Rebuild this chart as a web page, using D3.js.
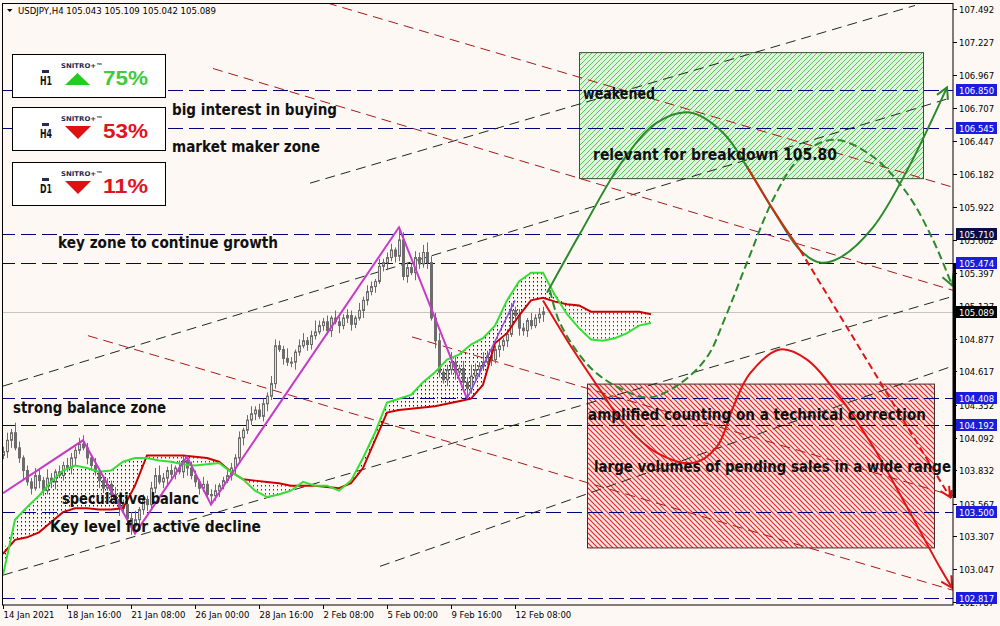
<!DOCTYPE html>
<html><head><meta charset="utf-8">
<script src="https://cdn.jsdelivr.net/npm/d3@7"></script>
<style>body{margin:0;background:#fdf8f4;}svg{display:block}</style>
</head><body>
<svg id="c" width="1000" height="626"></svg>
<script>
// ---------------- DATA ----------------
const closes = [
103.98,104.07,104.13,104.01,103.93,103.83,103.74,103.69,103.79,103.75,103.67,103.77,103.74,103.82,103.79,103.87,103.85,103.93,103.99,104.04,
104.01,103.93,103.87,103.82,103.75,103.69,103.72,103.64,103.60,103.53,103.56,103.45,103.39,103.44,103.52,103.60,103.56,103.69,103.79,103.74,
103.77,103.83,103.80,103.85,103.82,103.91,103.85,103.79,103.74,103.69,103.72,103.64,103.63,103.67,103.71,103.75,103.79,103.85,103.93,104.09,
104.15,104.23,104.28,104.31,104.26,104.36,104.42,104.52,104.82,104.79,104.72,104.69,104.69,104.77,104.82,104.86,104.83,104.90,104.93,104.98,
105.01,104.94,105.04,105.01,104.98,105.04,105.06,104.99,105.04,105.10,105.18,105.25,105.29,105.33,105.45,105.48,105.52,105.58,105.53,105.66,
105.37,105.44,105.40,105.52,105.47,105.56,105.48,105.04,104.86,104.61,104.55,104.63,104.69,104.61,104.64,104.53,104.48,104.58,104.63,104.66,
104.69,104.74,104.71,104.79,104.82,104.86,104.91,105.10,105.06,104.96,104.94,105.02,104.98,105.04,105.07,105.089];
const firstOpen = 103.95;
// wick lengths in hundredths of a yen
const wickUp = [
4,6,3,8,5,2,4,3,6,5,3,7,4,2,5,3,6,4,3,5,
7,4,3,6,2,4,5,3,6,2,4,3,5,7,2,4,3,5,6,8,
4,3,5,2,6,4,3,5,4,2,6,3,4,5,2,3,6,4,3,5,
2,4,6,3,5,4,3,6,5,4,3,8,4,2,5,6,3,4,9,4,
3,5,2,6,4,3,5,4,2,6,3,5,4,2,6,3,4,5,2,10,
6,4,3,5,4,6,8,5,4,6,3,4,8,5,3,6,4,9,5,3,
8,4,6,3,5,2,4,6,3,5,4,2,6,3,5,4];
const wickDn = [
3,5,6,2,4,7,3,5,2,6,4,3,5,6,2,4,3,5,6,3,
2,5,4,3,6,4,2,5,3,6,4,5,7,2,6,4,5,3,4,2,
5,6,3,4,2,5,6,3,4,5,3,2,6,4,5,3,2,4,5,3,
6,3,4,5,2,4,6,3,4,2,5,3,4,6,3,2,5,4,3,2,
4,3,5,2,6,3,4,5,3,2,6,4,3,5,2,4,6,3,5,4,
3,5,2,6,4,3,5,2,6,4,3,5,4,6,3,5,8,4,3,6,
4,2,5,3,6,4,5,2,3,6,4,5,3,2,4,6];
// Ichimoku spans, one value every 3 bars
const cloudStep = 3;
const spanA = [103.00,103.44,103.54,103.63,103.74,103.83,103.87,103.85,103.82,103.83,103.90,103.93,103.93,103.91,103.90,103.88,103.87,103.88,103.89,103.82,
103.76,103.67,103.62,103.64,103.67,103.74,103.71,103.71,103.67,103.75,103.93,104.13,104.37,104.40,104.43,104.53,104.61,104.71,104.75,104.83,
104.88,104.98,105.18,105.33,105.40,105.40,105.22,105.07,104.96,104.87,104.86,104.88,104.92,104.98,105.00];
const spanB = [103.17,103.28,103.30,103.34,103.42,103.50,103.53,103.53,103.52,103.52,103.53,103.71,103.95,103.95,103.95,103.95,103.94,103.93,103.90,103.82,
103.76,103.75,103.74,103.73,103.71,103.71,103.71,103.70,103.69,103.73,103.85,104.07,104.29,104.31,104.32,104.33,104.34,104.36,104.38,104.40,
104.51,104.84,104.92,105.06,105.18,105.20,105.17,105.15,105.14,105.09,105.09,105.09,105.09,105.09,105.07];
// zigzag (bar index, price)
const zigzag = [[0,103.65],[20,104.07],[33,103.33],[46,103.94],[52,103.56],[99,105.76],[116,104.40]];
const zigzagLast = [[116,104.40],[128,105.18]];
// forecast paths (bar index, price)
const fcGreen = [[136,105.24],[144.25,105.71],[155,106.29],[163.5,106.59],[171.75,106.67],[180,106.51],[186,106.24],[192.5,105.90],[199.25,105.58],[204.25,105.48],[209.25,105.52],[217.5,105.76],[226,106.21],[236,106.87]];
const fcRedSeg = [[186,106.24],[192.5,105.90],[199.25,105.58]];
const fcRedDash = [[199.25,105.58],[236.75,103.62]];
const fcGreenDash = [[136.75,105.26],[139.25,105.00],[146.75,104.65],[155,104.47],[161.75,104.41],[169.25,104.52],[176,104.73],[180.5,105.04],[186,105.48],[192.5,105.98],[198.5,106.29],[204.25,106.43],[209.25,106.45],[217.5,106.32],[226,106.03],[232.5,105.66],[237.25,105.30]];
const fcRed = [[135,105.18],[142.5,104.79],[149.25,104.47],[155,104.21],[163.5,103.97],[172.5,103.89],[178.5,104.02],[182.5,104.33],[186.75,104.60],[194.25,104.79],[201,104.71],[209.25,104.41],[217.5,104.02],[226,103.54],[234.25,103.06],[237.25,102.90]];
// trend lines
const trendBlack = [[[76.75,106.11],[228,107.52]],[[0,104.50],[237.25,106.79]],[[0,103.00],[237.25,105.21]],[[94.25,103.07],[237.5,104.66]]];
const trendRed = [[[52.5,107.02],[237.5,105.26]],[[81,107.54],[237.25,106.08]],[[21.25,104.90],[237.5,102.88]],[[102.25,104.89],[237.5,103.63]]];
// zones
const zoneBuy = [[144,107.15],[230,106.15]];
const zoneSell = [[146,104.52],[232.75,103.22]];
// levels
const levels = [106.850,106.545,105.710,105.474,104.408,104.192,103.500,102.817];
const levelKind = ['b','b','d','b','b','b','b','b'];
const lastPrice = 105.089;
const priceTicks = [107.492,107.227,106.967,106.707,106.447,106.182,105.922,105.662,105.397,105.137,104.877,104.617,104.352,104.092,103.832,103.567,103.307,103.047,102.787];
const timeTicks = [0,16,32,48,64,80,96,112,128];
const timeLabels = ['14 Jan 2021','18 Jan 16:00','21 Jan 08:00','26 Jan 00:00','28 Jan 16:00','2 Feb 08:00','5 Feb 00:00','9 Feb 16:00','12 Feb 08:00'];
const header = 'USDJPY,H4  105.043 105.109 105.042 105.089';
const notes = ['big interest in buying','market maker zone','key zone to continue growth','strong balance zone','speculative balanc','Key level for active decline','weakened','relevant for breakdown 105.80','amplified counting on a technical correction','large volumes of pending sales in a wide range'];
const panelTF = ['H1','H4','D1'];
const panelPct = ['75%','53%','11%'];
const panelDir = [1,-1,-1];

// ---------------- LAYOUT ----------------
const notePos = [[172,115,165],[172,152,148],[58,248,220],[13,413,153],[62,504,137],[50,532,211],[583,99,72],[593,160,244],[588,420,338],[594,472,357]];
const BG='#fdf8f4';
const svg=d3.select('#c');
const x=d3.scaleLinear().domain([0,237.5]).range([3,953]);
const y=d3.scaleLinear().domain([102.787,107.492]).range([602,9]);
const defs=svg.append('defs');
svg.append('rect').attr('width',1000).attr('height',626).attr('fill',BG);
defs.append('clipPath').attr('id','clip').append('rect').attr('x',3).attr('y',4).attr('width',950).attr('height',601);

function hatch(id,bg,col,dir,w){
  const p=defs.append('pattern').attr('id',id).attr('patternUnits','userSpaceOnUse').attr('width',5).attr('height',5);
  p.append('rect').attr('width',5).attr('height',5).attr('fill',bg);
  p.append('path').attr('d',dir>0?'M-1,1 L1,-1 M0,5 L5,0 M4,6 L6,4':'M-1,4 L1,6 M0,0 L5,5 M4,-1 L6,1').attr('stroke',col).attr('stroke-width',w);
}
hatch('hG','#ddf6dc','#5cc45c',1,1);
hatch('hR','#fbe4e2','#e42a2a',-1,1.2);
function dots(id,col){
  const p=defs.append('pattern').attr('id',id).attr('patternUnits','userSpaceOnUse').attr('width',4).attr('height',4);
  p.append('rect').attr('x',1).attr('y',1).attr('width',1).attr('height',1.5).attr('fill',col);
}
dots('dK','#1a1a1a'); dots('dR','#cc0000');
function marker(id,col,dbl){
  const m=defs.append('marker').attr('id',id).attr('viewBox','-12 -7 14 14').attr('refX',0).attr('refY',0)
    .attr('markerWidth',14).attr('markerHeight',14).attr('markerUnits','userSpaceOnUse').attr('orient','auto');
  m.append('path').attr('d',dbl?'M-10,-5 L0,0 L-10,5 M-5,-5 L2,0':'M-11,-6 L0,0 L-11,6').attr('fill','none').attr('stroke',col).attr('stroke-width',2);
}
marker('aG','#2b8a2b'); marker('aR','#e01414'); marker('aRd','#e01414',true);

const g=svg.append('g').attr('clip-path','url(#clip)');
// zones
function zone(z,fill,stroke){
  g.append('rect').attr('x',x(z[0][0])+0.5).attr('y',y(z[0][1])+0.5)
   .attr('width',x(z[1][0])-x(z[0][0])).attr('height',y(z[1][1])-y(z[0][1]))
   .attr('fill',fill).attr('stroke',stroke).attr('stroke-width',1);
}
zone(zoneBuy,'url(#hG)','#3d4f35');
zone(zoneSell,'url(#hR)','#4a2a2a');
// last price line
g.append('line').attr('x1',3).attr('x2',953).attr('y1',Math.round(y(lastPrice))+0.5).attr('y2',Math.round(y(lastPrice))+0.5).attr('stroke','#c8c4c0');
// levels
levels.forEach(v=>{
  const yy=Math.round(y(v))+0.5;
  g.append('line').attr('x1',0).attr('x2',953).attr('y1',yy).attr('y2',yy).attr('stroke','#000078').attr('stroke-dasharray','15,6');
});
// trend lines
const ln=d3.line().x(d=>x(d[0])).y(d=>y(d[1]));
trendBlack.forEach(t=>g.append('path').attr('d',ln(t)).attr('stroke','#1e2a1e').attr('stroke-width',1).attr('fill','none').attr('stroke-dasharray','10,6'));
trendRed.forEach(t=>g.append('path').attr('d',ln(t)).attr('stroke','#a81818').attr('stroke-width',1).attr('fill','none').attr('stroke-dasharray','10,6'));
// cloud
const cd=spanA.map((a,k)=>({i:k*cloudStep,a:a,b:spanB[k]}));
g.append('path').attr('d',d3.area().x(d=>x(d.i)).y0(d=>y(d.b)).y1(d=>y(Math.max(d.a,d.b)))(cd)).attr('fill','url(#dK)');
g.append('path').attr('d',d3.area().x(d=>x(d.i)).y0(d=>y(d.a)).y1(d=>y(Math.max(d.a,d.b)))(cd)).attr('fill','url(#dR)');
// candles
const CC='#6c6c6c';
const cg=g.append('g');
closes.forEach((c,j)=>{
  const o=j?closes[j-1]:firstOpen;
  const hi=Math.max(o,c)+wickUp[j]/100, lo=Math.min(o,c)-wickDn[j]/100;
  const xx=Math.round(x(j));
  cg.append('line').attr('x1',xx+0.5).attr('x2',xx+0.5).attr('y1',y(hi)).attr('y2',y(lo)).attr('stroke',CC);
  const top=y(Math.max(o,c)), bot=y(Math.min(o,c));
  cg.append('rect').attr('x',xx-0.5).attr('y',top).attr('width',2).attr('height',Math.max(1,bot-top))
    .attr('fill',c>=o?'#e4e0dc':CC).attr('stroke',CC).attr('stroke-width',1);
});
// spans
const sl=d3.line().x(d=>x(d.i));
g.append('path').attr('d',sl.y(d=>y(d.b))(cd)).attr('fill','none').attr('stroke','#cc0000').attr('stroke-width',2);
g.append('path').attr('d',sl.y(d=>y(d.a))(cd)).attr('fill','none').attr('stroke','#33e033').attr('stroke-width',2);
// zigzag
g.append('path').attr('d',ln(zigzag)).attr('fill','none').attr('stroke','#c43cc8').attr('stroke-width',2);
g.append('path').attr('d',ln(zigzagLast)).attr('fill','none').attr('stroke','#8a4ae0').attr('stroke-width',1.5);
// forecasts
const cv=d3.line().x(d=>x(d[0])).y(d=>y(d[1])).curve(d3.curveCatmullRom.alpha(0.5));
g.append('path').attr('d',cv(fcGreenDash)).attr('fill','none').attr('stroke','#2b8a2b').attr('stroke-width',2).attr('stroke-dasharray','8,4').attr('marker-end','url(#aG)');
g.append('path').attr('d',cv(fcRed)).attr('fill','none').attr('stroke','#e01414').attr('stroke-width',2).attr('marker-end','url(#aR)');
g.append('path').attr('d',cv(fcGreen)).attr('fill','none').attr('stroke','#2b8a2b').attr('stroke-width',2).attr('marker-end','url(#aG)');
g.append('path').attr('d',cv(fcRedSeg)).attr('fill','none').attr('stroke','#c83018').attr('stroke-width',2);
g.append('path').attr('d',ln(fcRedDash)).attr('fill','none').attr('stroke','#e01414').attr('stroke-width',2).attr('stroke-dasharray','7,4').attr('marker-end','url(#aRd)');
// notes
notes.forEach((t,k)=>{
  const p=notePos[k];
  svg.append('text').attr('x',p[0]).attr('y',p[1]).text(t)
    .attr('font-family','"Comic Sans MS","DejaVu Sans",sans-serif').attr('font-weight','bold').attr('font-size',15)
    .attr('fill','#111').attr('textLength',p[2]).attr('lengthAdjust','spacingAndGlyphs');
});
// frame
svg.append('rect').attr('x',2.5).attr('y',3.5).attr('width',950.5).attr('height',601.5).attr('fill','none').attr('stroke','#000');
svg.append('rect').attr('x',953).attr('y',263).attr('width',3).attr('height',235).attr('fill','#000');
// right axis
const AX='"DejaVu Sans",Verdana,sans-serif';
priceTicks.forEach(v=>{
  const yy=Math.round(y(v))+0.5;
  svg.append('line').attr('x1',953).attr('x2',957).attr('y1',yy).attr('y2',yy).attr('stroke','#000');
  svg.append('text').attr('x',959).attr('y',yy+3.5).text(v.toFixed(3)).attr('font-family',AX).attr('font-size',8.5).attr('fill','#000');
});
function tag(v,bg){
  const yy=Math.round(y(v));
  svg.append('rect').attr('x',956).attr('y',yy-6).attr('width',41).attr('height',12).attr('fill',bg);
  svg.append('text').attr('x',959).attr('y',yy+3.5).text(v.toFixed(3)).attr('font-family',AX).attr('font-size',8.5).attr('fill','#fff');
}
levels.forEach((v,k)=>tag(v,levelKind[k]==='d'?'#0d0d45':'#1c1cdc'));
tag(lastPrice,'#000');
// bottom axis
timeTicks.forEach((t,k)=>{
  const xx=Math.round(x(t))+0.5;
  svg.append('line').attr('x1',xx).attr('x2',xx).attr('y1',605).attr('y2',609).attr('stroke','#000');
  svg.append('text').attr('x',xx).attr('y',618).text(timeLabels[k]).attr('font-family',AX).attr('font-size',8.5).attr('fill','#000');
});
// header
svg.append('path').attr('d','M7,9 L12.5,9 L9.75,12 Z').attr('fill','#000');
svg.append('text').attr('x',18).attr('y',14).text(header).attr('font-family',AX).attr('font-size',8.5).attr('fill','#000').attr('textLength',198).attr('lengthAdjust','spacingAndGlyphs');
// panels
const panelTop=[54,107,162];
panelTF.forEach((tf,k)=>{
  const t=panelTop[k];
  svg.append('rect').attr('x',12.5).attr('y',t+0.5).attr('width',153).attr('height',43).attr('fill','#fff').attr('stroke','#000');
  svg.append('rect').attr('x',42).attr('y',t+16).attr('width',7).attr('height',3).attr('fill','#2a2a50');
  svg.append('text').attr('x',40).attr('y',t+31).text(tf).attr('font-family','"Liberation Sans Narrow","DejaVu Sans Condensed",sans-serif').attr('font-weight','bold').attr('font-size',12).attr('fill','#111').attr('textLength',12).attr('lengthAdjust','spacingAndGlyphs');
  svg.append('text').attr('x',61).attr('y',t+14).text('SNITRO+™').attr('font-family','"DejaVu Sans",sans-serif').attr('font-weight','bold').attr('font-size',6.5).attr('fill','#1f2b50').attr('textLength',42).attr('lengthAdjust','spacingAndGlyphs');
  const up=panelDir[k]>0;
  svg.append('path').attr('d',up?`M65,${t+31} L90,${t+31} L77.5,${t+19} Z`:`M65,${t+19} L91,${t+19} L78,${t+32} Z`).attr('fill',up?'#22cc22':'#dd1111');
  svg.append('text').attr('x',103).attr('y',t+31).text(panelPct[k]).attr('font-family','"Liberation Sans",Arial,sans-serif').attr('font-weight','bold').attr('font-size',19.5)
    .attr('fill',up?'#3ccc3c':'#e0141e').attr('textLength',45).attr('lengthAdjust','spacingAndGlyphs');
});
</script>
</body></html>
